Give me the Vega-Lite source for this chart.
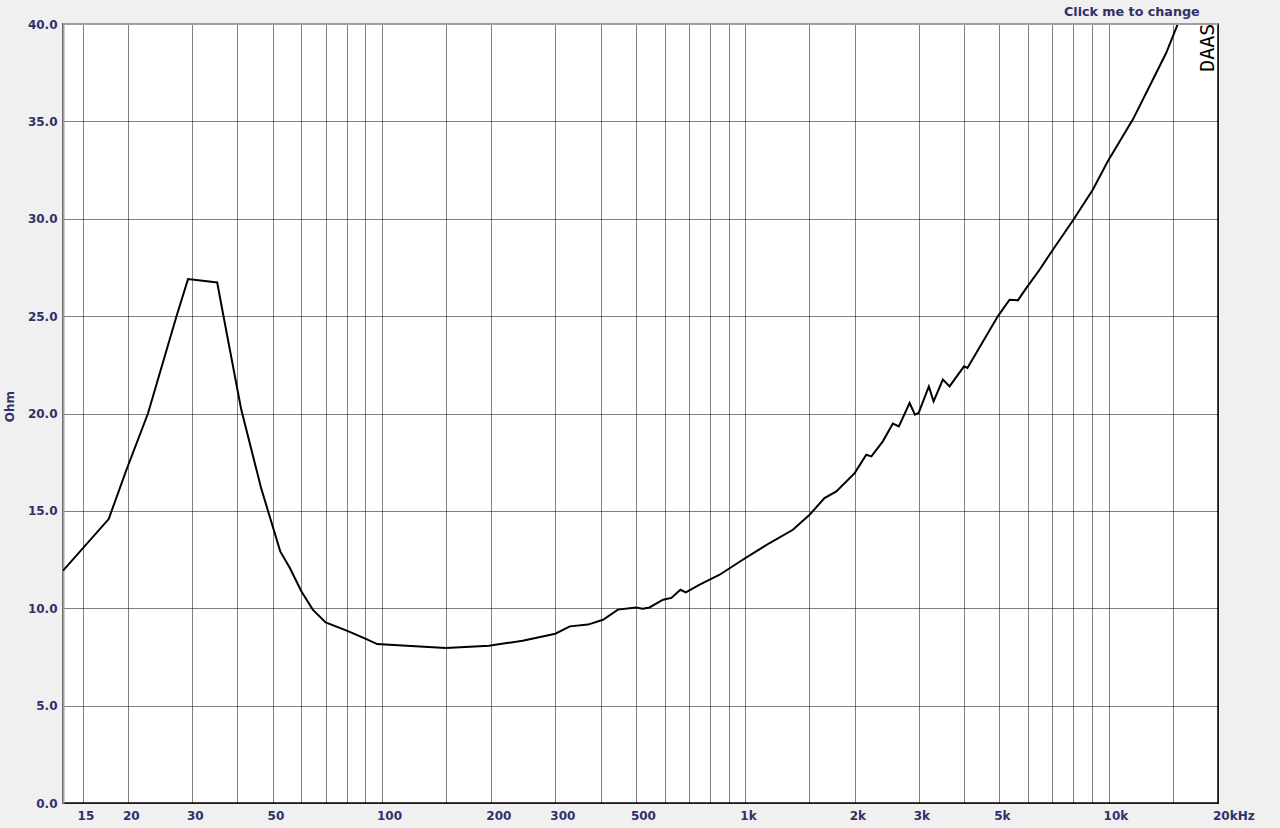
{
  "$schema": "https://vega.github.io/schema/vega-lite/v6.json",
  "width": 1155,
  "height": 779,
  "autosize": {"type": "none"},
  "padding": {"left": 63, "top": 24, "right": 62, "bottom": 25},
  "background": "#f0f0f0",
  "config": {"view": {"fill": "white", "stroke": "black", "strokeWidth": 1.5}},
  "layer": [
    {
      "data": {"values": [
        {"freq": 13.25, "ohm": 11.93},
        {"freq": 17.7, "ohm": 14.58},
        {"freq": 19.8, "ohm": 17.1},
        {"freq": 22.7, "ohm": 20.0},
        {"freq": 27.2, "ohm": 24.99},
        {"freq": 29.26, "ohm": 26.9},
        {"freq": 35.2, "ohm": 26.73},
        {"freq": 36.5, "ohm": 25.16},
        {"freq": 41.0, "ohm": 20.2},
        {"freq": 46.5, "ohm": 16.17},
        {"freq": 52.5, "ohm": 12.92},
        {"freq": 55.8, "ohm": 12.07},
        {"freq": 60.0, "ohm": 10.87},
        {"freq": 64.5, "ohm": 9.93},
        {"freq": 70, "ohm": 9.27},
        {"freq": 80, "ohm": 8.85},
        {"freq": 90, "ohm": 8.44},
        {"freq": 97, "ohm": 8.16},
        {"freq": 117, "ohm": 8.08},
        {"freq": 150, "ohm": 7.96},
        {"freq": 197, "ohm": 8.08},
        {"freq": 244, "ohm": 8.33},
        {"freq": 300, "ohm": 8.69},
        {"freq": 329, "ohm": 9.07},
        {"freq": 369, "ohm": 9.16},
        {"freq": 406, "ohm": 9.41},
        {"freq": 446, "ohm": 9.93},
        {"freq": 500, "ohm": 10.04},
        {"freq": 522, "ohm": 9.98},
        {"freq": 545, "ohm": 10.04},
        {"freq": 594, "ohm": 10.44},
        {"freq": 626, "ohm": 10.53},
        {"freq": 663, "ohm": 10.95},
        {"freq": 686, "ohm": 10.81},
        {"freq": 749, "ohm": 11.21},
        {"freq": 850, "ohm": 11.72},
        {"freq": 984, "ohm": 12.49},
        {"freq": 1167, "ohm": 13.35},
        {"freq": 1352, "ohm": 14.03},
        {"freq": 1503, "ohm": 14.8},
        {"freq": 1652, "ohm": 15.66},
        {"freq": 1781, "ohm": 16.0},
        {"freq": 2000, "ohm": 16.94},
        {"freq": 2153, "ohm": 17.88},
        {"freq": 2224, "ohm": 17.8},
        {"freq": 2391, "ohm": 18.57},
        {"freq": 2548, "ohm": 19.48},
        {"freq": 2647, "ohm": 19.34},
        {"freq": 2833, "ohm": 20.54},
        {"freq": 2930, "ohm": 19.94},
        {"freq": 3000, "ohm": 20.03},
        {"freq": 3200, "ohm": 21.39},
        {"freq": 3298, "ohm": 20.62},
        {"freq": 3498, "ohm": 21.74},
        {"freq": 3649, "ohm": 21.39},
        {"freq": 4000, "ohm": 22.42},
        {"freq": 4087, "ohm": 22.34},
        {"freq": 4955, "ohm": 24.99},
        {"freq": 5337, "ohm": 25.84},
        {"freq": 5626, "ohm": 25.81},
        {"freq": 5933, "ohm": 26.44},
        {"freq": 6455, "ohm": 27.38},
        {"freq": 7023, "ohm": 28.41},
        {"freq": 8000, "ohm": 29.95},
        {"freq": 9045, "ohm": 31.49},
        {"freq": 9948, "ohm": 32.95},
        {"freq": 11657, "ohm": 35.09},
        {"freq": 13232, "ohm": 37.14},
        {"freq": 14397, "ohm": 38.51},
        {"freq": 15503, "ohm": 40.0}
      ]},
      "mark": {"type": "line", "color": "black", "strokeWidth": 2, "clip": true},
      "encoding": {
        "x": {
          "field": "freq", "type": "quantitative",
          "scale": {"type": "log", "domain": [13.25, 20000], "nice": false},
          "axis": {
            "title": null,
            "values": [15, 20, 30, 40, 50, 60, 70, 80, 90, 100, 150, 200, 300, 400, 500, 600, 700, 800, 900, 1000, 1500, 2000, 3000, 4000, 5000, 6000, 7000, 8000, 9000, 10000, 15000, 20000],
            "labelExpr": "indexof([15,20,30,50,100,200,300,500,1000,2000,3000,5000,10000,20000], datum.value) < 0 ? '' : (datum.value == 20000 ? '20kHz' : (datum.value >= 1000 ? (datum.value / 1000) + 'k' : datum.value + ''))",
            "labelAlign": "left",
            "labelOffset": -5.5,
            "labelPadding": 7,
            "labelBaseline": "top",
            "labelFont": "DejaVu Sans",
            "labelFontSize": 12,
            "labelFontWeight": "bold",
            "labelColor": "#30306a",
            "labelFlush": false,
            "labelOverlap": false,
            "labelBound": false,
            "ticks": false,
            "tickSize": 0,
            "domain": false,
            "grid": true,
            "gridColor": "black",
            "gridDash": [1, 1],
            "gridOpacity": 1,
            "gridWidth": 1
          }
        },
        "y": {
          "field": "ohm", "type": "quantitative",
          "scale": {"domain": [0, 40], "nice": false},
          "axis": {
            "title": "Ohm",
            "titleFont": "DejaVu Sans",
            "titleFontSize": 12,
            "titleFontWeight": "bold",
            "titleColor": "#30306a",
            "titleAngle": 270,
            "titleAlign": "center",
            "titleBaseline": "top",
            "titleX": -59,
            "titleY": 382,
            "values": [0, 5, 10, 15, 20, 25, 30, 35, 40],
            "format": ".1f",
            "labelFont": "DejaVu Sans",
            "labelFontSize": 12,
            "labelFontWeight": "bold",
            "labelColor": "#30306a",
            "labelPadding": 6,
            "labelBaseline": "middle",
            "labelFlush": false,
            "labelOverlap": false,
            "ticks": false,
            "tickSize": 0,
            "domainColor": "#a0a0a0",
            "domainWidth": 2,
            "grid": true,
            "gridColor": "black",
            "gridDash": [1, 1],
            "gridOpacity": 1,
            "gridWidth": 1
          }
        }
      }
    },
    {
      "data": {"values": [{}]},
      "mark": {"type": "rule", "color": "#a0a0a0", "strokeWidth": 2},
      "encoding": {"y": {"datum": 40}}
    },
    {
      "data": {"values": [{}]},
      "mark": {"type": "text", "text": "DAAS", "angle": 270, "font": "DejaVu Sans Mono", "fontSize": 20, "align": "center", "baseline": "middle", "color": "black"},
      "encoding": {"x": {"datum": 18750}, "y": {"datum": 38.78}}
    },
    {
      "data": {"values": [{}]},
      "mark": {"type": "text", "text": "Click me to change", "font": "DejaVu Sans", "fontSize": 12.7, "fontWeight": "bold", "align": "right", "baseline": "middle", "color": "#30306a"},
      "encoding": {"x": {"datum": 17803}, "y": {"datum": 40.61}}
    }
  ]
}
